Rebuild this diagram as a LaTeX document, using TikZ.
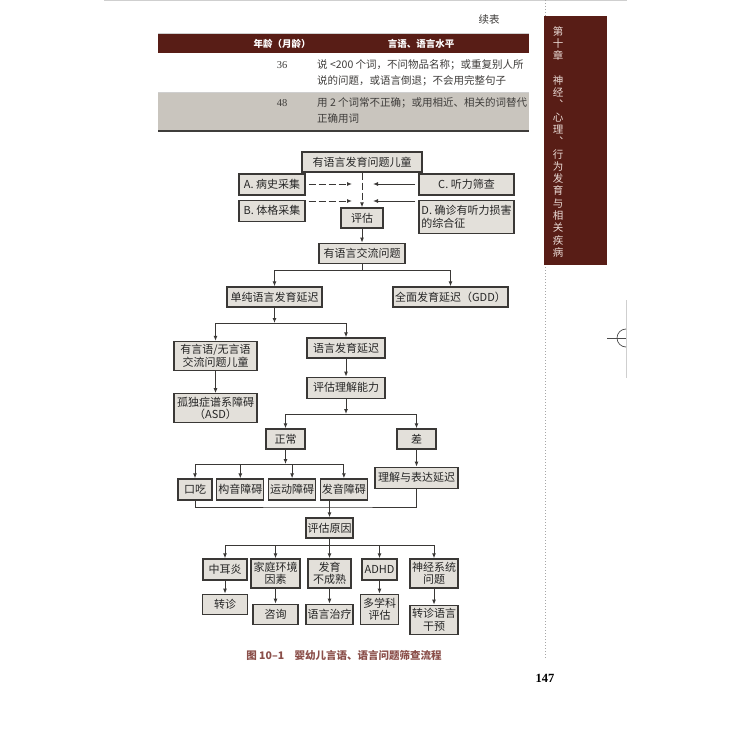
\documentclass[tikz,border=0pt]{standalone}
\usepackage{fontspec}
\setmainfont{Noto Sans CJK SC}
\newfontfamily\numfont{Liberation Serif}
\usepackage{tikz}
\usetikzlibrary{arrows.meta,positioning,calc}
\definecolor{maroon}{HTML}{581D16}
\definecolor{boxfill}{HTML}{E3E0DA}
\definecolor{boxline}{HTML}{3A3836}
\definecolor{rowgray}{HTML}{C9C5BE}
\definecolor{inkgray}{HTML}{3F3D3B}
\definecolor{sidetext}{HTML}{EBDCD7}
\definecolor{captred}{HTML}{8A4E49}
\definecolor{edgegray}{HTML}{CFCFCF}
\tikzset{
  flowbox/.style={
    draw=boxline,fill=boxfill,line width=1.3pt,
    minimum height=20pt,inner sep=1.5pt,align=center,
    text=black!85,font=\fontsize{11}{12.5}\selectfont
  },
  tallbox/.style={flowbox,minimum height=29pt},
  cell/.style={anchor=west,inner sep=0pt,text=inkgray,font=\fontsize{10.5}{12}\selectfont},
  headcell/.style={inner sep=0pt,text=white,font=\fontsize{9.5}{11}\selectfont\bfseries},
  arrow/.style={-{Latex[length=5pt,width=4pt]},draw=boxline,line width=1pt},
  dasharrow/.style={arrow,dash pattern=on 7pt off 3pt},
  link/.style={draw=boxline,line width=1pt}
}
\begin{document}
\begin{tikzpicture}[x=1pt,y=-1pt]
\useasboundingbox (0,0) rectangle (730,730);
\fill[white] (0,0) rectangle (730,730);

\draw[edgegray,line width=1pt] (104,1) -- (627,1);
\draw[black!35,line width=1pt,dotted] (545,0) -- (545,659);
\fill[maroon] (544,16) rectangle (607,265);
\node[anchor=north,inner sep=0pt,text=sidetext,align=center,
  font=\fontsize{10.5}{12.3}\selectfont] (chapter) at (558,26)
{第\\十\\章\\[12.3pt]神\\经\\︑\\心\\理\\︑\\行\\为\\发\\育\\与\\相\\关\\疾\\病};
\draw[edgegray,line width=.8pt] (626,300) -- (626,378);
\draw[black!70,line width=.7pt] (607,338) -- (626,338);
\draw[black!70,line width=.7pt] (626,347) arc[start angle=90,end angle=270,radius=9];

\node[cell,anchor=center] (cont) at (489,20) {续表};
\draw[edgegray,line width=.8pt] (158,33.5) -- (529,33.5);
\fill[maroon] (158,34) rectangle (529,53);
\node[headcell] (agehead) at (282,44) {年龄（月龄）};
\node[headcell] (levelhead) at (421,44) {言语、语言水平};
\node[cell,anchor=center] (age1) at (282,65) {\numfont 36};
\node[cell] (lvl1a) at (317,65) {说 <200 个词，不问物品名称；或重复别人所};
\node[cell] (lvl1b) at (317,81) {说的问题，或语言倒退；不会用完整句子};
\fill[rowgray] (158,93) rectangle (529,130);
\draw[edgegray,line width=.6pt] (158,92.5) -- (529,92.5);
\node[cell,anchor=center] (age2) at (282,103) {\numfont 48};
\node[cell] (lvl2a) at (317,103) {用 2 个词常不正确；或用相近、相关的词替代};
\node[cell] (lvl2b) at (317,119) {正确用词};
\draw[inkgray,line width=1.5pt] (158,131) -- (529,131);

\node[flowbox,minimum width=120pt] (kid) at (362,162) {有语言发育问题儿童};
\node[flowbox,minimum width=66pt,minimum height=21pt] (hist) at (272,184.5) {A. 病史采集};
\node[flowbox,minimum width=66pt,minimum height=21pt,below=4pt of hist] (phys) {B. 体格采集};
\node[flowbox,minimum width=95pt,minimum height=21pt] (hear) at (466.5,184.5) {C. 听力筛查};
\node[flowbox,minimum width=95pt,minimum height=33pt,align=left,
  below=4pt of hear] (synd) {D. 确诊有听力损害\\的综合征};
\node[flowbox,minimum width=42pt] (eval) at (362,218) {评估};
\node[flowbox,minimum width=86pt,below=14pt of eval] (comm) {有语言交流问题};
\node[flowbox,minimum width=95pt] (pure) at (274.5,297) {单纯语言发育延迟};
\node[flowbox,minimum width=115pt] (gdd) at (450.5,297) {全面发育延迟（GDD）};

\node[tallbox,minimum width=83pt] (talk) at (215.5,356) {有言语/无言语\\交流问题儿童};
\node[tallbox,minimum width=83pt,below=22pt of talk] (asd) {孤独症谱系障碍\\（ASD）};
\node[flowbox,minimum width=78pt] (delay) at (346,348) {语言发育延迟};
\node[flowbox,minimum width=78pt,minimum height=21pt,below=18pt of delay] (compr) {评估理解能力};
\node[flowbox,minimum width=39pt] (normal) at (285.5,439) {正常};
\node[flowbox,minimum width=39pt] (poor) at (416.5,439) {差};
\node[flowbox,minimum width=83pt,minimum height=21pt,below=17pt of poor] (both) {理解与表达延迟};
\node[flowbox,minimum width=34pt,minimum height=21pt] (stut) at (195,489.5) {口吃};
\node[flowbox,minimum width=47pt,minimum height=21pt,right=3.5pt of stut] (artic) {构音障碍};
\node[flowbox,minimum width=47pt,minimum height=21pt,right=3.5pt of artic] (motor) {运动障碍};
\node[flowbox,minimum width=47pt,minimum height=21pt,right=3.5pt of motor] (phon) {发音障碍};

\node[flowbox,minimum width=47pt] (cause) at (329.5,528) {评估原因};
\node[flowbox,minimum width=44pt,minimum height=21pt] (otitis) at (225,569.5) {中耳炎};
\node[tallbox,minimum width=49pt] (family) at (275.5,573.5) {家庭环境\\因素};
\node[tallbox,minimum width=43pt] (immat) at (329.5,573.5) {发育\\不成熟};
\node[flowbox,minimum width=35pt,minimum height=21pt] (adhd) at (379.5,569.5) {ADHD};
\node[tallbox,minimum width=48pt] (neuro) at (434,573.5) {神经系统\\问题};
\node[flowbox,minimum width=45pt,below=13pt of otitis] (refer) {转诊};
\node[flowbox,minimum width=45pt,below=15pt of family] (consult) {咨询};
\node[flowbox,minimum width=47pt,below=15pt of immat] (therapy) {语言治疗};
\node[tallbox,minimum width=38pt,minimum height=30pt,below=13pt of adhd] (multi) {多学科\\评估};
\node[tallbox,minimum width=48pt,below=16pt of neuro] (interv) {转诊语言\\干预};

\coordinate (ina) at (352,184);
\coordinate (inb) at (352,201);
\coordinate (inc) at (373,184);
\coordinate (ind) at (373,201);
\draw[dasharrow] (kid) -- (eval);
\draw[dasharrow,shorten <=3pt] (hist.east |- ina) -- (ina);
\draw[dasharrow,shorten <=3pt] (phys.east |- inb) -- (inb);
\draw[arrow,shorten <=3pt] (hear.west |- inc) -- (inc);
\draw[arrow,shorten <=3pt] (synd.west |- ind) -- (ind);
\draw[arrow] (eval) -- (comm);

\coordinate (split1) at (362,270);
\draw[link] (comm) -- (split1);
\draw[arrow] (split1) -| (pure);
\draw[arrow] (split1) -| (gdd);
\coordinate (split2) at (274.5,323);
\draw[arrow] (pure) -- (split2);
\draw[arrow] (split2) -| (talk);
\draw[arrow] (split2) -| (delay);
\draw[arrow] (talk) -- (asd);
\draw[arrow] (delay) -- (compr);
\coordinate (split3) at (346,414);
\draw[arrow] (compr) -- (split3);
\draw[arrow] (split3) -| (normal);
\draw[arrow] (split3) -| (poor);
\draw[arrow] (poor) -- (both);
\coordinate (split4) at (285.5,464);
\draw[arrow] (normal) -- (split4);
\foreach \n in {stut,artic,motor,phon} \draw[arrow] (split4) -| (\n);

\coordinate (merge) at (329.5,507);
\draw[link] (stut) |- (merge) -| (both);
\draw[arrow] (phon.south -| cause) -- (cause);
\coordinate (split5) at (329.5,545);
\draw[link] (cause) -- (split5);
\foreach \n in {otitis,family,immat,adhd,neuro} \draw[arrow] (split5) -| (\n);
\draw[arrow] (otitis) -- (refer);
\draw[arrow] (family) -- (consult);
\draw[arrow] (immat) -- (therapy);
\draw[arrow] (adhd) -- (multi);
\draw[arrow] (neuro) -- (interv);

\node[inner sep=0pt,text=captred,font=\fontsize{10.5}{12}\selectfont\bfseries] (caption)
  at (344,655) {图 10–1\quad 婴幼儿言语、语言问题筛查流程};
\node[inner sep=0pt,font=\numfont\bfseries\fontsize{12.5}{14}\selectfont] (pagenum) at (545,678) {147};
\end{tikzpicture}
\end{document}
